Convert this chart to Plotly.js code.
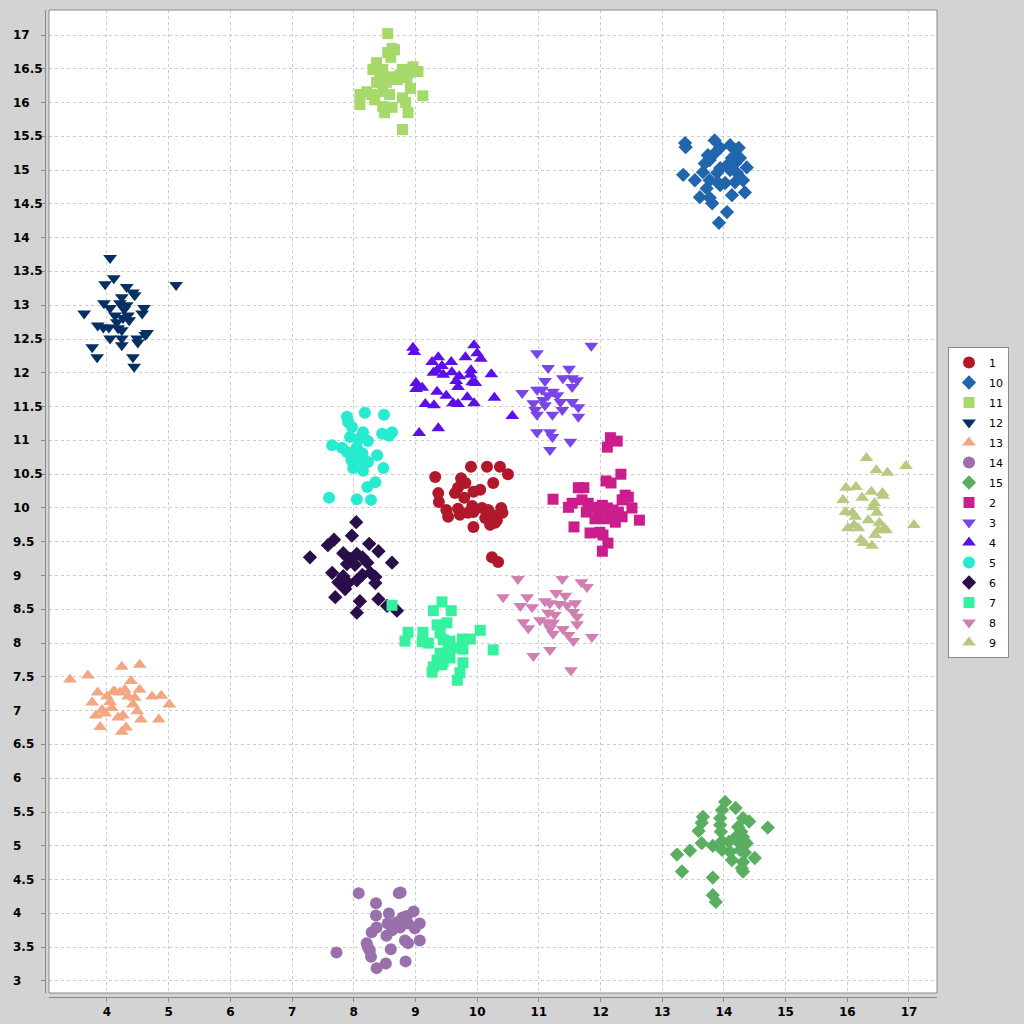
<!DOCTYPE html>
<html>
<head>
<meta charset="utf-8">
<script src="https://cdn.plot.ly/plotly-3.0.1.min.js"></script>
<style>html,body{margin:0;padding:0;background:#d3d3d3;}#chart{width:1024px;height:1024px;}</style>
</head>
<body>
<div id="chart"></div>
<script>
// Series labels (legend order)
const labels = ['1','10','11','12','13','14','15','2','3','4','5','6','7','8','9'];

const x_1 = [9.32,9.90,10.16,10.37,10.50,9.74,9.81,10.26,9.37,9.64,9.69,9.94,10.05,9.79,9.38,9.50,9.53,9.69,9.72,9.85,9.92,9.94,10.08,10.13,10.18,10.24,10.29,10.21,10.32,10.39,10.41,9.94,10.24,10.34];
const y_1 = [10.46,10.61,10.61,10.61,10.50,10.44,10.37,10.37,10.22,10.22,10.30,10.24,10.27,10.15,10.09,9.97,9.87,9.99,9.90,9.93,10.03,9.94,10.00,9.85,9.97,9.90,9.78,9.75,9.82,10.00,9.93,9.72,9.27,9.20];

const x_10 = [13.37,13.38,13.85,13.94,14.10,14.18,14.24,13.74,13.77,13.69,14.18,14.26,14.37,14.05,14.10,13.94,13.66,13.89,14.21,13.34,13.53,13.77,13.90,14.02,14.18,14.31,13.72,13.94,14.13,14.34,13.61,13.77,13.81,14.05,13.92,13.85,14.13];
const y_10 = [15.40,15.34,15.44,15.33,15.37,15.30,15.33,15.22,15.15,15.10,15.10,15.18,15.04,15.07,15.00,15.03,14.97,14.96,14.96,14.93,14.85,14.85,14.82,14.81,14.82,14.85,14.73,14.78,14.63,14.67,14.60,14.59,14.51,14.38,14.22,15.25,15.18];

const x_11 = [8.55,8.62,8.55,8.66,8.60,8.37,8.31,8.47,8.79,8.96,9.04,8.88,8.75,8.58,8.42,8.37,8.53,8.71,8.86,8.92,9.12,8.10,8.21,8.29,8.47,8.58,8.34,8.10,8.47,8.62,8.79,8.84,8.50,8.88,8.79];
const y_11 = [17.02,16.80,16.74,16.78,16.67,16.59,16.49,16.49,16.49,16.53,16.46,16.44,16.41,16.38,16.37,16.30,16.30,16.34,16.37,16.21,16.10,16.12,16.16,16.12,16.16,16.12,16.04,15.97,15.94,15.93,16.07,16.00,15.85,15.85,15.60];

const x_12 = [4.05,4.11,5.12,3.97,4.32,4.42,4.45,4.24,3.95,4.05,4.21,4.32,4.28,4.60,4.57,3.63,4.13,4.26,4.34,4.16,4.36,3.85,3.94,4.03,4.18,4.24,4.05,4.24,4.49,4.62,4.65,4.50,3.76,3.84,4.24,4.42,4.44];
const y_12 = [13.70,13.40,13.30,13.31,13.27,13.19,13.15,13.12,13.03,12.96,13.03,13.00,12.94,12.96,12.88,12.88,12.85,12.81,12.85,12.75,12.78,12.70,12.67,12.67,12.66,12.63,12.51,12.51,12.51,12.56,12.59,12.45,12.38,12.23,12.41,12.23,12.09];

const x_13 = [3.40,3.69,4.24,4.53,3.76,3.85,4.00,4.05,4.13,4.21,4.29,4.34,4.39,3.92,3.97,4.08,4.18,4.26,4.31,4.24,3.89,4.42,4.49,4.53,4.55,4.73,4.88,4.84,5.01,4.10,3.82,4.45];
const y_13 = [7.46,7.52,7.65,7.68,7.12,7.27,7.21,7.13,7.28,7.27,7.31,7.21,7.44,7.01,6.96,7.04,6.90,6.93,6.75,6.69,6.76,7.09,6.99,7.31,6.87,7.21,7.22,6.87,7.09,7.28,6.93,7.19];

const x_14 = [8.08,8.73,8.76,8.36,8.97,8.36,8.57,8.79,8.86,8.55,8.70,8.88,9.07,8.37,8.29,8.62,8.75,8.99,8.53,8.21,8.83,8.88,9.07,7.72,8.26,8.28,8.60,8.52,8.84,8.37,8.23];
const y_14 = [4.30,4.30,4.31,4.15,4.03,3.97,4.00,3.94,3.96,3.85,3.87,3.85,3.85,3.79,3.72,3.75,3.79,3.78,3.67,3.56,3.60,3.56,3.60,3.42,3.45,3.36,3.47,3.26,3.29,3.19,3.50];

const x_15 = [14.02,14.19,13.97,13.66,13.94,14.31,14.41,13.64,13.94,14.23,14.71,13.59,13.95,14.28,14.31,14.18,13.64,13.82,13.97,14.08,14.23,14.37,13.97,14.10,14.26,14.34,13.45,13.24,14.50,14.13,14.31,14.31,13.32,13.82,13.82,13.87,14.29];
const y_15 = [5.65,5.56,5.53,5.43,5.41,5.41,5.36,5.34,5.31,5.28,5.27,5.22,5.21,5.21,5.13,5.12,5.04,5.00,5.07,5.06,5.06,5.04,4.94,4.91,4.94,4.90,4.93,4.87,4.82,4.79,4.76,4.62,4.62,4.53,4.27,4.17,4.67];

const x_2 = [12.16,12.27,12.11,12.33,12.09,12.17,11.64,11.73,11.23,12.40,12.45,12.35,11.70,11.54,11.48,11.80,11.88,12.03,12.11,12.51,12.20,12.29,11.77,11.96,12.16,12.35,11.91,12.07,12.24,12.63,11.57,11.83,11.99,12.04,12.12,12.03];
const y_2 = [11.04,10.99,10.90,10.50,10.40,10.37,10.30,10.30,10.13,10.19,10.16,10.12,10.12,10.07,10.01,10.07,10.01,10.04,10.00,10.00,9.97,9.94,9.94,9.90,9.87,9.87,9.84,9.84,9.79,9.82,9.72,9.63,9.64,9.60,9.48,9.36];

const x_3 = [11.85,10.97,11.15,11.49,11.39,11.54,11.62,11.10,11.54,10.97,10.73,11.23,11.15,11.07,10.91,11.35,11.54,10.94,11.10,11.64,11.38,10.97,11.22,11.64,10.97,11.18,11.22,11.51,11.18,11.30,11.05];
const y_3 = [12.40,12.29,12.07,12.06,11.92,11.92,11.89,11.88,11.79,11.75,11.70,11.72,11.67,11.60,11.55,11.57,11.57,11.45,11.52,11.49,11.45,11.38,11.38,11.35,11.12,11.12,11.05,10.98,10.86,11.67,11.75];

const x_4 = [8.96,8.98,9.95,10.00,10.06,9.37,9.27,9.58,9.81,9.43,9.35,9.29,9.45,9.59,9.90,10.23,9.71,9.89,9.66,9.92,9.97,9.01,9.11,9.01,9.69,9.35,9.50,9.84,10.28,9.16,9.30,9.61,9.69,9.95,10.57,9.06,9.37];
const y_4 = [12.37,12.31,12.41,12.29,12.21,12.23,12.16,12.16,12.23,12.10,12.04,12.00,11.97,12.01,12.04,11.98,11.95,11.97,11.88,11.86,11.85,11.85,11.78,11.76,11.79,11.72,11.66,11.64,11.63,11.54,11.52,11.55,11.54,11.55,11.36,11.11,11.18];

const x_5 = [7.89,8.18,8.49,7.91,7.97,8.62,8.46,8.57,8.15,7.94,8.07,8.23,7.65,7.81,7.89,8.05,7.99,8.14,8.38,7.96,8.10,8.23,7.99,8.15,8.48,8.35,8.22,7.60,8.05,8.28];
const y_5 = [11.35,11.41,11.38,11.27,11.20,11.12,11.10,11.07,11.12,11.05,11.02,10.99,10.93,10.89,10.83,10.90,10.78,10.81,10.78,10.71,10.71,10.68,10.59,10.55,10.59,10.38,10.31,10.15,10.13,10.12];

const x_6 = [8.04,7.68,7.58,7.97,8.25,8.40,7.29,7.83,8.05,7.94,8.14,8.22,7.89,8.02,8.62,7.65,7.83,8.14,8.27,8.35,7.75,7.91,8.05,8.35,7.86,7.70,8.10,8.40,8.54,8.70,8.05];
const y_6 = [9.79,9.53,9.45,9.59,9.47,9.36,9.27,9.33,9.32,9.25,9.27,9.19,9.17,9.16,9.19,9.04,8.99,9.01,9.04,8.98,8.90,8.89,8.93,8.89,8.80,8.68,8.62,8.65,8.55,8.48,8.45];

const x_7 = [8.62,9.43,9.29,9.58,9.35,9.51,10.05,8.88,9.12,9.40,8.83,9.11,9.21,9.45,9.56,9.76,9.89,9.64,9.53,9.40,10.26,9.77,9.35,9.45,9.56,9.77,9.29,9.43,9.27,9.72,9.68];
const y_7 = [8.56,8.61,8.48,8.48,8.27,8.30,8.19,8.16,8.16,8.15,8.03,8.02,8.00,8.05,8.03,8.06,8.06,7.93,7.90,7.85,7.90,7.91,7.75,7.72,7.78,7.71,7.65,7.68,7.57,7.56,7.45];

const x_8 = [10.66,11.38,11.69,11.78,10.42,10.81,11.28,11.43,11.10,10.70,10.89,11.18,11.33,11.46,11.59,11.15,11.26,11.56,11.62,11.02,11.13,10.75,11.23,10.83,11.62,11.18,11.39,11.23,11.48,11.56,11.86,11.18,10.91,11.52];
const y_8 = [8.95,8.95,8.90,8.83,8.68,8.68,8.74,8.70,8.62,8.55,8.53,8.59,8.58,8.56,8.59,8.45,8.42,8.46,8.39,8.34,8.31,8.31,8.30,8.22,8.28,8.22,8.21,8.14,8.12,8.03,8.09,7.90,7.81,7.60];

const x_9 = [16.31,16.47,16.65,16.95,16.14,15.98,16.39,16.57,16.58,16.24,16.44,15.93,16.42,15.97,16.08,16.34,16.52,16.60,16.11,16.18,16.45,16.22,16.27,16.40,16.63,17.08,16.13,16.48,16.50,16.01];
const y_9 = [10.74,10.56,10.52,10.62,10.31,10.30,10.24,10.22,10.18,10.15,10.07,10.12,10.01,9.94,9.93,9.82,9.78,9.70,9.75,9.70,9.60,9.53,9.48,9.44,9.67,9.75,9.87,9.93,9.67,9.70];

const xTickVals = [4,5,6,7,8,9,10,11,12,13,14,15,16,17];
const yTickVals = [3,3.5,4,4.5,5,5.5,6,6.5,7,7.5,8,8.5,9,9.5,10,10.5,11,11.5,12,12.5,13,13.5,14,14.5,15,15.5,16,16.5,17];
const yTickText = ['3','3.5','4','4.5','5','5.5','6','6.5','7','7.5','8','8.5','9','9.5','10','10.5','11','11.5','12','12.5','13','13.5','14','14.5','15','15.5','16','16.5','17'];

const seriesX = {'1':x_1,'10':x_10,'11':x_11,'12':x_12,'13':x_13,'14':x_14,'15':x_15,'2':x_2,'3':x_3,'4':x_4,'5':x_5,'6':x_6,'7':x_7,'8':x_8,'9':x_9};
const seriesY = {'1':y_1,'10':y_10,'11':y_11,'12':y_12,'13':y_13,'14':y_14,'15':y_15,'2':y_2,'3':y_3,'4':y_4,'5':y_5,'6':y_6,'7':y_7,'8':y_8,'9':y_9};

const style = {
  '1':  {color:'#b2182b', symbol:'circle', size:12},
  '10': {color:'#2166ac', symbol:'diamond', size:11},
  '11': {color:'#a6d96a', symbol:'square', size:11},
  '12': {color:'#053061', symbol:'triangle-down', size:12},
  '13': {color:'#f4a582', symbol:'triangle-up', size:12},
  '14': {color:'#9970ab', symbol:'circle', size:12},
  '15': {color:'#5aae61', symbol:'diamond', size:11},
  '2':  {color:'#cc1d8c', symbol:'square', size:11},
  '3':  {color:'#7846e6', symbol:'triangle-down', size:12},
  '4':  {color:'#5b10e8', symbol:'triangle-up', size:12},
  '5':  {color:'#27ebcf', symbol:'circle', size:12},
  '6':  {color:'#2a0e4a', symbol:'diamond', size:11},
  '7':  {color:'#36f29e', symbol:'square', size:11},
  '8':  {color:'#d07fb0', symbol:'triangle-down', size:12},
  '9':  {color:'#b8ca82', symbol:'triangle-up', size:12}
};

const traces = labels.map(function(l){
  return {
    type:'scatter', mode:'markers', name:l, legendgroup:'g'+l,
    x: seriesX[l], y: seriesY[l],
    marker:{color:style[l].color, symbol:style[l].symbol, size:style[l].size, line:{width:0}}
  };
});

const W = 1024, H = 1024;
const mL = 45, mR = 87, mT = 10, mB = 27;
const pw = W - mL - mR, ph = H - mT - mB;
const gap = 4;

const annotations = yTickVals.map(function(v,i){
  return {xref:'paper', yref:'y', x:(11 - mL)/pw, y:v, xanchor:'left', yanchor:'middle',
          text:yTickText[i], showarrow:false,
          font:{family:'DejaVu Sans', size:12, color:'#000', weight:'bold'}};
});

const layout = {
  width:W, height:H,
  paper_bgcolor:'#d3d3d3', plot_bgcolor:'#ffffff',
  margin:{l:mL, r:mR, t:mT, b:mB, pad:0},
  showlegend:true,
  xaxis:{
    domain:[gap/pw, 1], anchor:'free', position:0,
    range:[3.060, 17.454], tickvals:xTickVals,
    showline:true, linecolor:'#8a8a8a', linewidth:1,
    ticks:'outside', ticklen:4, tickcolor:'#8a8a8a',
    showgrid:true, gridcolor:'#cccccc', griddash:'3px,3px', gridwidth:1,
    zeroline:false,
    tickfont:{family:'DejaVu Sans', size:12, color:'#000', weight:'bold'}
  },
  yaxis:{
    domain:[gap/ph, 1], anchor:'free', position:0,
    range:[2.822, 17.37], tickvals:yTickVals, showticklabels:false,
    showline:true, linecolor:'#8a8a8a', linewidth:1,
    ticks:'outside', ticklen:4, tickcolor:'#8a8a8a',
    showgrid:true, gridcolor:'#cccccc', griddash:'3px,3px', gridwidth:1,
    zeroline:false
  },
  shapes:[{type:'rect', xref:'paper', yref:'paper', x0:gap/pw, x1:1, y0:gap/ph, y1:1,
           line:{color:'#8a8a8a', width:1}, fillcolor:'rgba(0,0,0,0)', layer:'above'}],
  annotations: annotations,
  legend:{
    x:(948 - mL)/pw, y:1 - (347 - mT)/ph, xanchor:'left', yanchor:'top',
    bgcolor:'#ffffff', bordercolor:'#8a8a8a', borderwidth:1,
    font:{family:'DejaVu Sans', size:11, color:'#000'},
    traceorder:'grouped', tracegroupgap:1
  }
};

Plotly.newPlot('chart', traces, layout, {displayModeBar:false, staticPlot:true});
</script>
</body>
</html>
